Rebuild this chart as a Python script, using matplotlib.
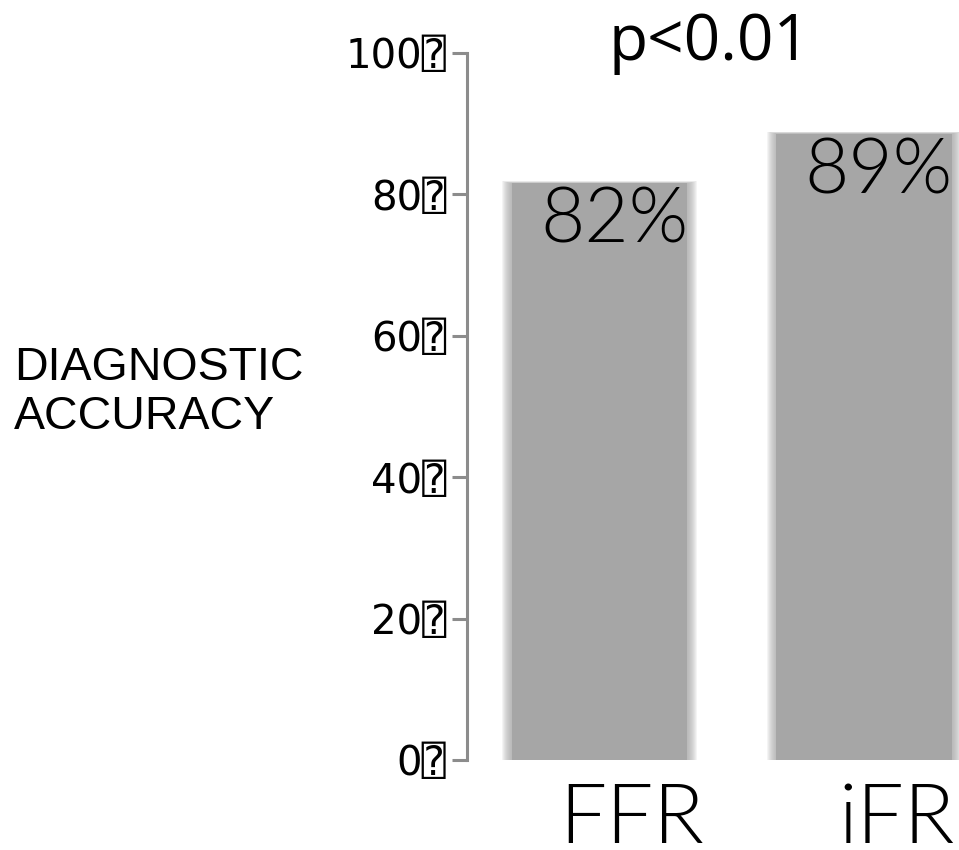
import matplotlib
matplotlib.use("Agg")
import matplotlib.pyplot as plt
import matplotlib.transforms as mtransforms

# Chart data
categories = ["FFR", "iFR"]
accuracy = [82, 89]
bar_labels = ["82%", "89%"]
yticks = [0, 20, 40, 60, 80, 100]
ytick_labels = [f"{t}\u2370" for t in yticks]
p_text = "p<0.01"
ylabel_text = "DIAGNOSTIC\nACCURACY"

fig = plt.figure(figsize=(9.59, 8.5), dpi=100)
ax = fig.add_axes([0.487, 0.1059, 0.513, 0.8318])

x = list(range(len(categories)))

# soft edges: faint wider/taller bars stacked under the core bar
n = 10
for k in range(n, 0, -1):
    ax.bar(x, [v + 0.06 * k for v in accuracy], width=0.664 + 0.007 * k,
           color="#a6a6a6", alpha=0.12, linewidth=0, bottom=-0.45 - 0.03 * k)
ax.bar(x, accuracy, width=0.664, color="#a6a6a6", linewidth=0, bottom=-0.45)

ax.set_xlim(-0.5, 1.357)
ax.set_ylim(0, 100)

for s in ["top", "right", "bottom"]:
    ax.spines[s].set_visible(False)
ax.spines["left"].set_color("#8c8c8c")
ax.spines["left"].set_linewidth(2.2)
ax.spines["left"].set_bounds(0, 100)

ax.set_xticks([])
ax.set_yticks(yticks)
ax.set_yticklabels(ytick_labels, fontsize=29, family=["DejaVu Sans", "DejaVu Sans Mono"])
ax.tick_params(axis="y", length=11, width=2.2, color="#8c8c8c", pad=4)

light = "Lato"
for xi, v, lab in zip(x, accuracy, bar_labels):
    ax.text(xi + 0.055, v - 0.9, lab, ha="center", va="top", fontsize=55,
            family=light, fontweight=300, color="black")

trans = mtransforms.blended_transform_factory(ax.transData, fig.transFigure)
for xi, cat in zip(x, categories):
    ax.text(xi + 0.12, 7 / 850, cat, ha="center", va="baseline", fontsize=60,
            family=light, fontweight=300, transform=trans)

fig.text(0.74, 0.987, p_text, ha="center", va="top", fontsize=46, family="Open Sans")
fig.text(0.015, 0.593, ylabel_text, ha="left", va="top", fontsize=33.5,
         family="Liberation Sans", linespacing=1.15)

fig.savefig("out.png", dpi=100)
